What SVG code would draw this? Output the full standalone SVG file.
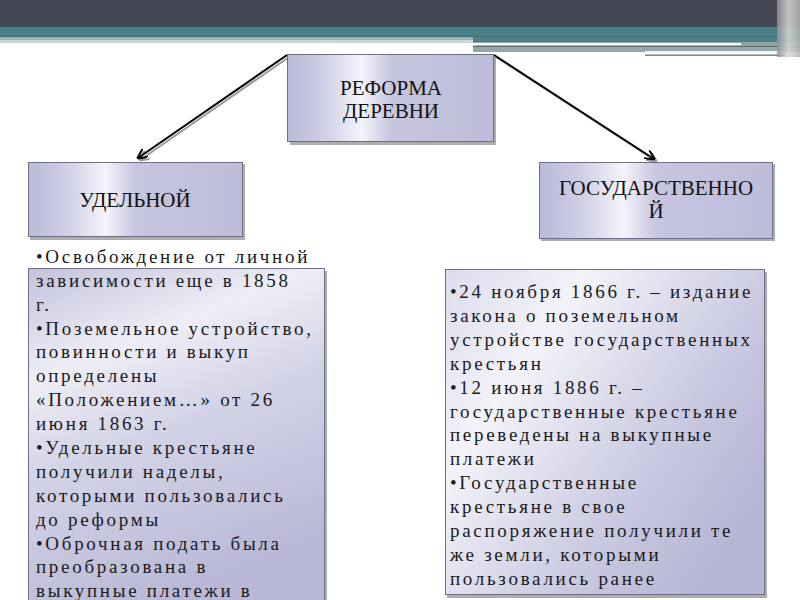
<svg xmlns="http://www.w3.org/2000/svg" width="800" height="600" viewBox="0 0 800 600">
<defs>
<linearGradient id="gh" x1="0" y1="0" x2="1" y2="0">
<stop offset="0" stop-color="#b9b9d9"/>
<stop offset="0.18" stop-color="#cfcfe6"/>
<stop offset="0.36" stop-color="#f4f4fb"/>
<stop offset="0.5" stop-color="#c6c6e0"/>
<stop offset="1" stop-color="#bdbddb"/>
</linearGradient>
<linearGradient id="gl" x1="0" y1="0" x2="0.35" y2="1">
<stop offset="0" stop-color="#c2c2dd"/>
<stop offset="0.3" stop-color="#eeeef7"/>
<stop offset="0.55" stop-color="#d4d4e8"/>
<stop offset="1" stop-color="#b9b9d7"/>
</linearGradient>
<linearGradient id="gr" x1="0" y1="0" x2="1" y2="0.7">
<stop offset="0" stop-color="#dcdcee"/>
<stop offset="0.3" stop-color="#f3f3fa"/>
<stop offset="0.7" stop-color="#cacae2"/>
<stop offset="1" stop-color="#b5b5d5"/>
</linearGradient>
<linearGradient id="edge" x1="0" y1="0" x2="1" y2="0">
<stop offset="0" stop-color="#8e8e9a"/>
<stop offset="0.5" stop-color="#d8d8d8"/>
<stop offset="1" stop-color="#b0b0b0"/>
</linearGradient>
<marker id="ah" viewBox="0 0 10 10" refX="9" refY="5" markerWidth="5" markerHeight="5" orient="auto-start-reverse">
<path d="M0,0 L10,5 L0,10" fill="none" stroke="#000" stroke-width="2"/>
</marker>
<marker id="ahs" viewBox="0 0 10 10" refX="9" refY="5" markerWidth="5" markerHeight="5" orient="auto-start-reverse">
<path d="M0,0 L10,5 L0,10" fill="none" stroke="#9a9a9a" stroke-width="2"/>
</marker>
</defs>
<rect width="800" height="600" fill="#ffffff"/>
<g id="header">
<rect x="0" y="0" width="800" height="27" fill="#454656"/>
<rect x="0" y="26" width="800" height="1" fill="#3c505a"/>
<rect x="0" y="27" width="800" height="10" fill="#4a7f87"/>
<rect x="0" y="36" width="800" height="1" fill="#3f6d74"/>
<rect x="0" y="37" width="473" height="3" fill="#9fb0b0"/>
<rect x="0" y="40" width="473" height="3" fill="#cfd6d6"/>
<rect x="473" y="37" width="327" height="5" fill="#4e8088"/>
<rect x="473" y="42" width="327" height="1" fill="#8ea4a4"/>
<rect x="473" y="43" width="268" height="2.5" fill="#ffffff"/>
<rect x="741" y="43" width="59" height="2.5" fill="#8ea4a4"/>
<rect x="473" y="45.5" width="327" height="1.5" fill="#5f6c68"/>
<rect x="473" y="47" width="327" height="5" fill="#93a9a9"/>
<rect x="645" y="51" width="140" height="3.5" fill="#f6fafa"/>
<rect x="645" y="54.5" width="140" height="1.5" fill="#8a8478"/>
<rect x="777" y="0" width="23" height="57" fill="url(#edge)" opacity="0.85"/>
</g>
<g id="connectors">
<line x1="289" y1="57" x2="140" y2="160" stroke="#9a9a9a" stroke-width="2" marker-end="url(#ahs)"/>
<line x1="287" y1="55" x2="138" y2="158" stroke="#000" stroke-width="2" marker-end="url(#ah)"/>
<line x1="496" y1="57" x2="656" y2="161" stroke="#9a9a9a" stroke-width="2" marker-end="url(#ahs)"/>
<line x1="494" y1="55" x2="654" y2="159" stroke="#000" stroke-width="2" marker-end="url(#ah)"/>
</g>
<g id="reforma">
<rect x="290" y="57" width="206" height="88" fill="#8a8a8a" opacity="0.7"/>
<rect x="287.5" y="54.5" width="206" height="87" fill="url(#gh)" stroke="#6e6e86"/>
<text x="391" y="95" font-family="Liberation Serif" font-size="21" fill="#111" text-anchor="middle">РЕФОРМА</text>
<text x="391" y="118" font-family="Liberation Serif" font-size="21" fill="#111" text-anchor="middle">ДЕРЕВНИ</text>
</g>
<g id="udelnoy">
<rect x="30" y="164" width="215" height="76" fill="#8a8a8a" opacity="0.7"/>
<rect x="28.5" y="162.5" width="214" height="74" fill="url(#gh)" stroke="#6e6e86"/>
<text x="135" y="207" font-family="Liberation Serif" font-size="21" fill="#111" text-anchor="middle">УДЕЛЬНОЙ</text>
</g>
<g id="gosudarstvennoy">
<rect x="541" y="164" width="234" height="77" fill="#8a8a8a" opacity="0.7"/>
<rect x="539.5" y="162.5" width="233" height="76" fill="url(#gh)" stroke="#6e6e86"/>
<text x="656" y="195" font-family="Liberation Serif" font-size="21" fill="#111" text-anchor="middle">ГОСУДАРСТВЕННО</text>
<text x="656" y="218" font-family="Liberation Serif" font-size="21" fill="#111" text-anchor="middle">Й</text>
</g>
<g id="left-text" font-family="Liberation Serif" font-size="19" fill="#1a1a1a" letter-spacing="2.7">
<rect x="30" y="271" width="297" height="340" fill="#8a8a8a" opacity="0.7"/>
<rect x="28.5" y="268.5" width="296" height="340" fill="url(#gl)" stroke="#6e6e86"/>
<text x="36" y="263">•Освобождение от личной</text>
<text x="36" y="287">зависимости еще в 1858</text>
<text x="36" y="311">г.</text>
<text x="36" y="335">•Поземельное устройство,</text>
<text x="36" y="358">повинности и выкуп</text>
<text x="36" y="382">определены</text>
<text x="36" y="406">«Положением…» от 26</text>
<text x="36" y="430">июня 1863 г.</text>
<text x="36" y="454">•Удельные крестьяне</text>
<text x="36" y="478">получили наделы,</text>
<text x="36" y="502">которыми пользовались</text>
<text x="36" y="526">до реформы</text>
<text x="36" y="550">•Оброчная подать была</text>
<text x="36" y="573">преобразована в</text>
<text x="36" y="597">выкупные платежи в</text>
</g>
<g id="right-text" font-family="Liberation Serif" font-size="19" fill="#1a1a1a" letter-spacing="2.7">
<rect x="447" y="272" width="320" height="326" fill="#8a8a8a" opacity="0.7"/>
<rect x="445.5" y="269.5" width="319" height="325" fill="url(#gr)" stroke="#6e6e86"/>
<text x="450" y="298">•24 ноября 1866 г. – издание</text>
<text x="450" y="322">закона о поземельном</text>
<text x="450" y="346">устройстве государственных</text>
<text x="450" y="370">крестьян</text>
<text x="450" y="394">•12 июня 1886 г. –</text>
<text x="450" y="418">государственные крестьяне</text>
<text x="450" y="441">переведены на выкупные</text>
<text x="450" y="465">платежи</text>
<text x="450" y="489">•Государственные</text>
<text x="450" y="513">крестьяне в свое</text>
<text x="450" y="537">распоряжение получили те</text>
<text x="450" y="561">же земли, которыми</text>
<text x="450" y="585">пользовались ранее</text>
</g>
</svg>
